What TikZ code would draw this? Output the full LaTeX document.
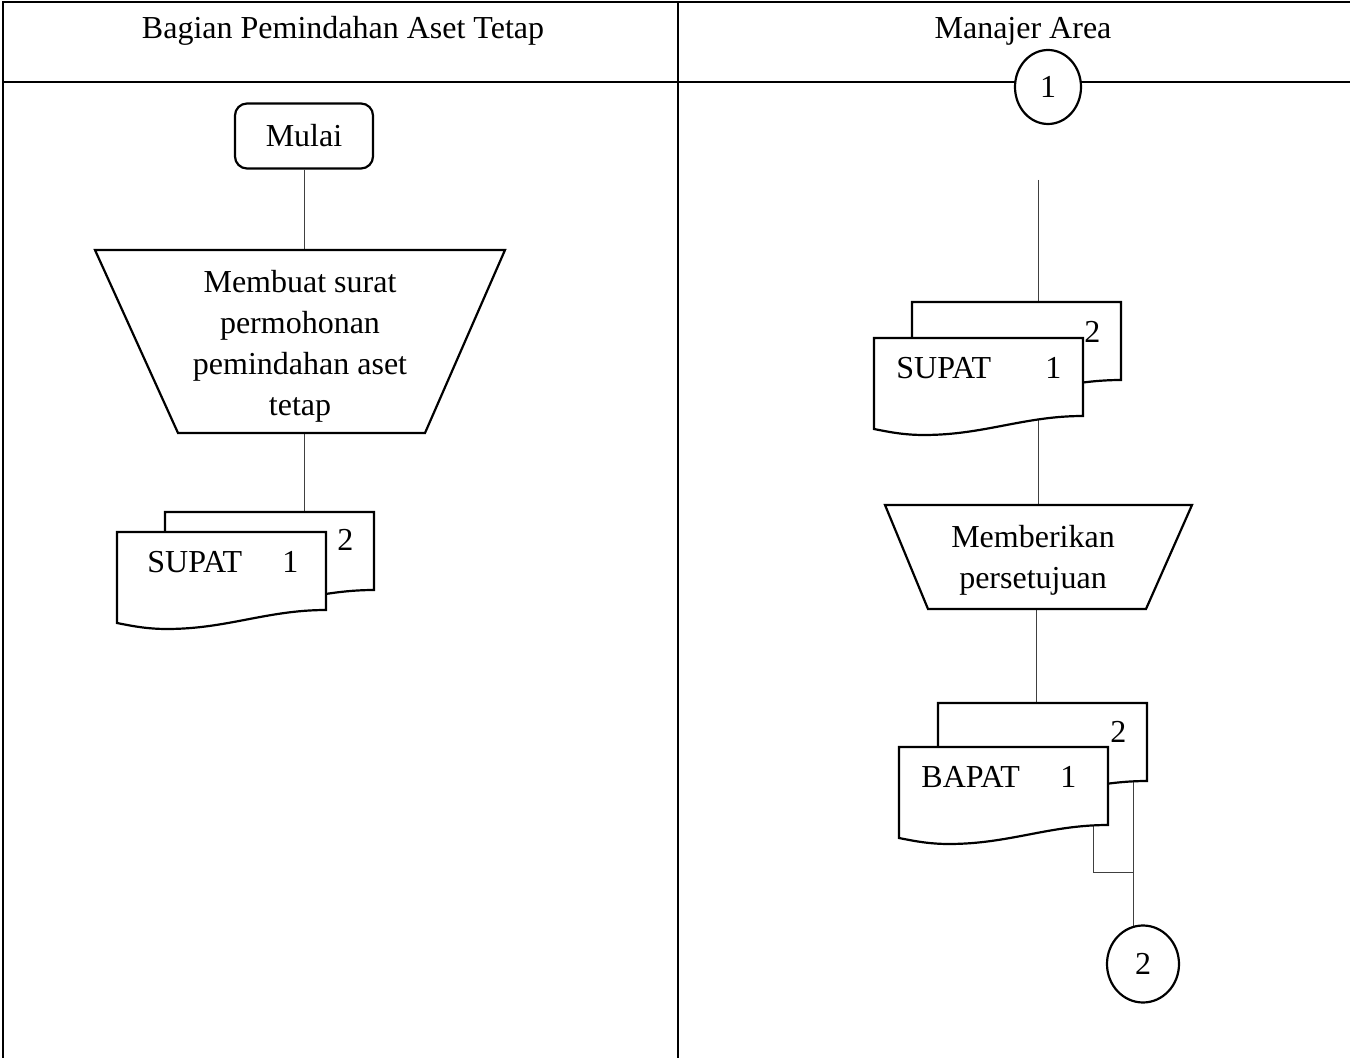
\documentclass[tikz,border=0pt]{standalone}
\usepackage{fontspec}
\setmainfont{Liberation Serif}
\usetikzlibrary{shapes.geometric}
\pgfdeclarelayer{background}
\pgfsetlayers{background,main}
% document symbol with wavy bottom, top-left corner at the local origin
\newcommand\docoutline{(0,0) -- (209,0) -- (209,78) .. controls (150,78) and (110,97) .. (50,97) .. controls (30,97) and (15,94) .. (0,91) -- cycle}
\begin{document}
\begin{tikzpicture}[x=0.5pt,y=-0.5pt,
  every node/.style={font=\fontsize{16}{20.5}\selectfont, inner sep=0pt},
  frame/.style={line width=1pt},
  symbol/.style={line width=1.1pt, fill=white},
  flowline/.style={line width=0.5pt, draw=black!75},
  doctext/.style={anchor=base west},
  connector/.style={draw, ellipse, line width=1.1pt, fill=white}]
\useasboundingbox (0,0) rectangle (1350,1058);

% swimlane table
\draw[frame] (3,1058) -- (3,2) -- (1350,2);
\draw[frame] (3,82) -- (1350,82);
\draw[frame] (678,2) -- (678,1058);
\node[anchor=base] (h1) at (343,39) {Bagian Pemindahan Aset Tetap};
\node[anchor=base] (h2) at (1023,39) {Manajer Area};

% ---- Bagian Pemindahan Aset Tetap ----
\node[draw, rounded corners=6pt, line width=1.1pt, minimum width=69pt, minimum height=32.5pt] (start) at (304,136) {Mulai};

\draw[symbol] (95,250) -- (505,250) -- (425,433) -- (178,433) -- cycle;
\coordinate (t1top) at (304,250);
\coordinate (t1bot) at (304,433);
\node[align=center] (t1) at (300,346) {Membuat surat\\permohonan\\pemindahan aset\\tetap};

\begin{scope}[shift={(165,512)}]
  \draw[symbol] \docoutline;
  \coordinate (d1top) at (139,0);
\end{scope}
\begin{scope}[shift={(117,532)}]
  \draw[symbol] \docoutline;
\end{scope}
\node[doctext] (d1a) at (147,573) {SUPAT};
\node[doctext] (d1b) at (282,573) {1};
\node[doctext] (d1c) at (337,551) {2};

% ---- Manajer Area ----
\node[connector, minimum width=33pt, minimum height=37pt] (c1) at (1048,87) {1};
\coordinate (r0) at (1038,180);

\begin{scope}[shift={(912,302)}]
  \draw[symbol] \docoutline;
  \coordinate (d2top) at (126,0);
\end{scope}
\begin{scope}[shift={(874,338)}]
  \draw[symbol] \docoutline;
  \coordinate (d2bot) at (164,60);
\end{scope}
\node[doctext] (d2a) at (896,379) {SUPAT};
\node[doctext] (d2b) at (1045,379) {1};
\node[doctext] (d2c) at (1084,343) {2};

\draw[symbol] (885,505) -- (1192,505) -- (1146,609) -- (928,609) -- cycle;
\coordinate (t2top) at (1038,505);
\coordinate (t2bot) at (1036,609);
\node[align=center] (t2) at (1033,560) {Memberikan\\persetujuan};

\begin{scope}[shift={(938,703)}]
  \draw[symbol] \docoutline;
  \coordinate (d3top) at (98,0);
  \coordinate (d3back) at (195,60);
\end{scope}
\begin{scope}[shift={(899,747)}]
  \draw[symbol] \docoutline;
  \coordinate (d3front) at (194,60);
\end{scope}
\node[doctext] (d3a) at (921,787) {BAPAT};
\node[doctext] (d3b) at (1060,787) {1};
\node[doctext] (d3c) at (1110,743) {2};
\coordinate (j) at (1133,872);

\node[connector, minimum width=36pt, minimum height=38.5pt] (c2) at (1143,964) {2};

% flow lines, kept behind the symbols
\begin{pgfonlayer}{background}
  \draw[flowline] (start.south) -- (t1top);
  \draw[flowline] (t1bot) -- (d1top);
  \draw[flowline] (r0) -- (d2top);
  \draw[flowline] (d2bot) -- (t2top);
  \draw[flowline] (t2bot) -- (d3top);
  \draw[flowline] (d3back) -- (d3back |- c2.center);
  \draw[flowline] (d3front) -- (d3front |- j) -- (j);
\end{pgfonlayer}
\end{tikzpicture}
\end{document}
